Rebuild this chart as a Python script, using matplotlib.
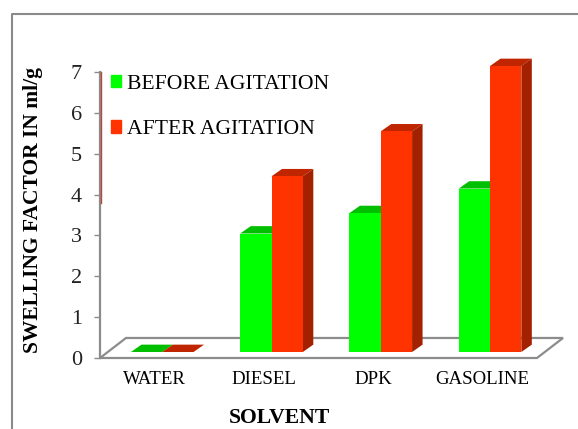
import numpy as np
import matplotlib
matplotlib.use("Agg")
import matplotlib.pyplot as plt
from matplotlib.patches import Patch, Polygon
from matplotlib.lines import Line2D

plt.rcParams['font.family'] = ['Liberation Serif', 'DejaVu Serif']

solvents = ["WATER", "DIESEL", "DPK", "GASOLINE"]
before = [0, 2.9, 3.4, 4.0]
after = [0, 4.3, 5.4, 7.0]

GRAY = "#8c8c8c"
# depth of the fake 3d look, in data units
floor_dx, floor_dy = 0.238, 0.49
bar_dx, bar_dy = 0.096, 0.18
base = 0.147
width = 0.2865
shift = 0.07

fig = plt.figure(figsize=(5.78, 4.29), dpi=100)
ax = fig.add_axes([100 / 578, 71 / 429, 437 / 578, 286 / 429])
ax.set_xlim(0, 4)
ax.set_ylim(0, 7)
ax.patch.set_visible(False)


def bar3d(x, values, front, top, side, z):
    ax.bar(x, values, width, bottom=base, color=front, zorder=z + 0.2, clip_on=False)
    for xi, v in zip(x, values):
        l, r = xi - width / 2, xi + width / 2
        t = base + v
        ax.add_patch(Polygon([(l, t), (r, t), (r + bar_dx, t + bar_dy), (l + bar_dx, t + bar_dy)],
                             fc=top, ec="none", zorder=z, clip_on=False))
        ax.add_patch(Polygon([(r, base), (r, t), (r + bar_dx, t + bar_dy), (r + bar_dx, base + bar_dy)],
                             fc=side, ec="none", zorder=z, clip_on=False))


# floor
floor = [(0, 0), (floor_dx, floor_dy), (4 + floor_dx, floor_dy), (4, 0)]
ax.add_patch(Polygon(floor, closed=True, fc="white", ec=GRAY, lw=1.6, zorder=1, clip_on=False))

pos = np.arange(4) + 0.5 + shift
bar3d(pos - width / 2, before, "#00ff00", "#00bf00", "#00a000", 2)
bar3d(pos + width / 2, after, "#ff3300", "#bf2600", "#a32000", 3)

for s in ["top", "right", "bottom"]:
    ax.spines[s].set_visible(False)
ax.spines["left"].set_color(GRAY)
ax.spines["left"].set_linewidth(1.6)

ax.set_xticks(np.arange(4) + 0.5)
ax.set_xticklabels(solvents, fontsize=13.6)
ax.tick_params(axis="x", length=0, pad=9.5)
ax.set_yticks(range(8))
ax.tick_params(axis="y", labelsize=16, length=4, width=1, color=GRAY, pad=9, labelcolor="#222222")

ax.set_xlabel("SOLVENT", fontsize=15.6, fontweight="bold")
ax.xaxis.set_label_coords(179 / 437, -50 / 286)
ax.set_ylabel("SWELLING FACTOR IN ml/g", fontsize=15.5, fontweight="bold")
ax.yaxis.set_label_coords(-57 / 437, 0.516)

# reddish stripe on the upper part of the y axis
ax.plot([0.007, 0.007], [3.8, 7], color="#b5493a", lw=1, zorder=6, clip_on=False)

handles = [Patch(color="#00ff00", label="BEFORE AGITATION"), Patch(color="#ff3300", label="AFTER AGITATION")]
ax.legend(handles=handles, loc="upper left", bbox_to_anchor=(0.002, 1.024), frameon=False, fontsize=15.6,
          handlelength=0.5, handleheight=0.5, handletextpad=0.24, labelspacing=1.22,
          borderaxespad=0, borderpad=0.45)

# outer frame, cut off by the image on the right and at the bottom
fig.add_artist(Line2D([11.5 / 578, 11.5 / 578, 1], [0, 1 - 14 / 429, 1 - 14 / 429], color="#8a8a8a", lw=1.5))

fig.savefig("out.png", dpi=100)
